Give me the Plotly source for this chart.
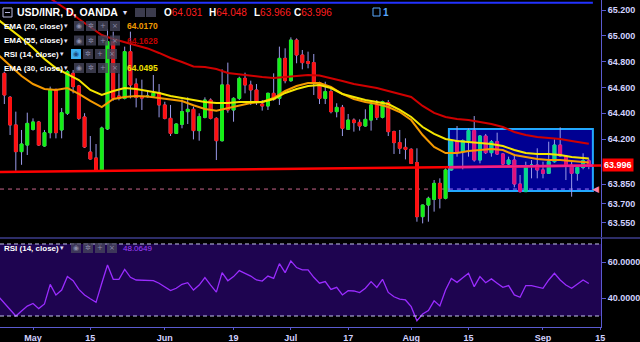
import numpy as np
import pandas as pd
import plotly.graph_objects as go

# ---------------- data ----------------
candle_start = "2017-04-24"          # first visible daily candle (weekdays only)
open_ = [64.709, 64.523, 64.309, 64.102, 64.153,
         64.275, 64.332, 64.146, 64.249, 64.585, 64.270, 64.399, 64.709, 64.611, 64.371,
         64.099, 64.053, 63.960, 64.278, 64.955, 64.533, 64.515, 64.877, 64.626, 64.523,
         64.528, 64.533, 64.559, 64.464, 64.360, 64.244, 64.314, 64.412, 64.430, 64.265,
         64.368, 64.502, 64.360, 64.187, 64.619, 64.425, 64.515, 64.670, 64.619, 64.580,
         64.471, 64.456, 64.554, 64.515, 64.825, 64.652, 64.967, 64.851, 64.800, 64.792,
         64.637, 64.515, 64.567, 64.412, 64.445, 64.275, 64.347, 64.329, 64.301, 64.347,
         64.464, 64.368, 64.482, 64.257, 64.172, 64.135, 64.120, 64.017, 63.598, 63.688,
         63.732, 63.856, 63.740, 63.960, 64.187, 64.102, 64.187, 64.265, 64.037, 64.223,
         64.094, 64.179, 64.084, 64.006, 64.037, 63.851, 63.792, 63.993, 63.998, 63.960,
         63.934, 64.024, 64.153, 64.068, 63.998, 63.934, 63.980, 64.031]
high = [64.722, 64.533, 64.412, 64.270, 64.404,
        64.360, 64.340, 64.270, 64.606, 64.590, 64.440, 64.735, 64.735, 64.619, 64.400,
        64.223, 64.161, 64.296, 65.050, 65.032, 64.709, 64.916, 65.032, 64.670, 64.660,
        64.570, 64.696, 64.626, 64.489, 64.464, 64.321, 64.507, 64.523, 64.451, 64.399,
        64.523, 64.515, 64.368, 64.740, 64.792, 64.523, 64.683, 64.714, 64.652, 64.626,
        64.502, 64.559, 64.709, 64.916, 64.903, 64.988, 64.980, 64.890, 64.877, 64.859,
        64.644, 64.644, 64.601, 64.477, 64.464, 64.394, 64.360, 64.352, 64.430, 64.471,
        64.502, 64.497, 64.502, 64.265, 64.270, 64.205, 64.128, 64.128, 63.690, 63.753,
        63.882, 63.895, 63.973, 64.192, 64.301, 64.197, 64.283, 64.378, 64.231, 64.239,
        64.192, 64.249, 64.089, 64.063, 64.084, 63.921, 64.024, 64.037, 64.128, 64.024,
        64.179, 64.197, 64.290, 64.076, 64.037, 63.991, 64.089, 64.048]
low = [64.471, 64.231, 63.954, 64.000, 64.076,
       64.265, 64.146, 64.141, 64.205, 64.205, 64.205, 64.386, 64.554, 64.347, 64.130,
       64.042, 63.955, 63.955, 64.270, 64.497, 64.500, 64.507, 64.515, 64.445, 64.425,
       64.520, 64.523, 64.368, 64.352, 64.223, 64.239, 64.283, 64.316, 64.197, 64.187,
       64.360, 64.352, 64.037, 64.180, 64.404, 64.334, 64.502, 64.554, 64.464, 64.464,
       64.420, 64.425, 64.497, 64.464, 64.632, 64.644, 64.787, 64.740, 64.748, 64.541,
       64.471, 64.471, 64.399, 64.368, 64.223, 64.270, 64.257, 64.265, 64.296, 64.265,
       64.347, 64.360, 64.223, 64.084, 64.084, 64.042, 64.006, 63.559, 63.546, 63.559,
       63.637, 63.662, 63.732, 63.954, 64.063, 63.965, 64.063, 64.024, 64.011, 64.084,
       64.063, 64.076, 63.998, 63.998, 63.825, 63.784, 63.790, 63.895, 63.895, 63.895,
       63.929, 64.017, 64.063, 63.882, 63.753, 63.877, 63.965, 63.966]
close = [64.541, 64.309, 64.102, 64.161, 64.321,
         64.332, 64.153, 64.249, 64.585, 64.249, 64.404, 64.722, 64.606, 64.360, 64.138,
         64.045, 63.960, 64.285, 64.955, 64.515, 64.515, 64.877, 64.619, 64.523, 64.518,
         64.533, 64.554, 64.464, 64.360, 64.244, 64.316, 64.412, 64.430, 64.265, 64.373,
         64.502, 64.360, 64.187, 64.619, 64.425, 64.515, 64.670, 64.619, 64.580, 64.489,
         64.456, 64.554, 64.507, 64.825, 64.652, 64.967, 64.851, 64.792, 64.787, 64.637,
         64.515, 64.567, 64.412, 64.445, 64.283, 64.347, 64.327, 64.301, 64.352, 64.464,
         64.368, 64.489, 64.257, 64.172, 64.128, 64.120, 64.011, 63.598, 63.688, 63.740,
         63.856, 63.740, 63.960, 64.179, 64.102, 64.187, 64.265, 64.037, 64.223, 64.094,
         64.179, 64.084, 64.006, 64.037, 63.851, 63.792, 63.985, 63.998, 63.960, 63.934,
         64.024, 64.153, 64.068, 63.998, 63.934, 63.980, 64.032, 63.996]

ema_dates = ["2017-04-21", "2017-04-25", "2017-04-27", "2017-05-01", "2017-05-03", "2017-05-05",
             "2017-05-09", "2017-05-11", "2017-05-15", "2017-05-17", "2017-05-19", "2017-05-23",
             "2017-05-25", "2017-05-29", "2017-05-31", "2017-06-02", "2017-06-06", "2017-06-08",
             "2017-06-12", "2017-06-14", "2017-06-16", "2017-06-20", "2017-06-22", "2017-06-26",
             "2017-06-28", "2017-06-30", "2017-07-04", "2017-07-06", "2017-07-10", "2017-07-12",
             "2017-07-14", "2017-07-18", "2017-07-20", "2017-07-24", "2017-07-26", "2017-07-28",
             "2017-08-01", "2017-08-03", "2017-08-07", "2017-08-09", "2017-08-11", "2017-08-15",
             "2017-08-17", "2017-08-21", "2017-08-23", "2017-08-25", "2017-08-29", "2017-08-31",
             "2017-09-04", "2017-09-06", "2017-09-08", "2017-09-13"]
ema20 = [64.851, 64.766, 64.688, 64.626, 64.588, 64.580, 64.595, 64.549, 64.495, 64.448,
         64.510, 64.526, 64.533, 64.530, 64.518, 64.502, 64.495, 64.462, 64.432, 64.420,
         64.440, 64.464, 64.479, 64.487, 64.518, 64.572, 64.611, 64.634, 64.634, 64.603,
         64.549, 64.510, 64.487, 64.471, 64.448, 64.409, 64.347, 64.231, 64.138, 64.091,
         64.091, 64.107, 64.115, 64.122, 64.115, 64.076, 64.060, 64.045, 64.037, 64.037,
         64.029, 64.017]
ema30 = [65.122, 65.053, 64.983, 64.905, 64.820, 64.750, 64.704, 64.657, 64.580, 64.541,
         64.572, 64.595, 64.588, 64.572, 64.557, 64.533, 64.518, 64.502, 64.487, 64.479,
         64.479, 64.487, 64.487, 64.487, 64.510, 64.557, 64.588, 64.611, 64.619, 64.595,
         64.549, 64.526, 64.502, 64.487, 64.471, 64.425, 64.371, 64.293, 64.239, 64.200,
         64.184, 64.177, 64.169, 64.161, 64.146, 64.115, 64.091, 64.084, 64.084, 64.076,
         64.060, 64.0495]
ema55 = [65.590, 65.520, 65.450, 65.386, 65.320, 65.262, 65.200, 65.130, 65.068, 65.006,
         64.975, 64.952, 64.929, 64.902, 64.867, 64.828, 64.797, 64.762, 64.758, 64.743,
         64.712, 64.700, 64.688, 64.681, 64.673, 64.681, 64.688, 64.696, 64.692, 64.673,
         64.650, 64.626, 64.611, 64.595, 64.572, 64.549, 64.526, 64.456, 64.402, 64.371,
         64.355, 64.347, 64.332, 64.316, 64.293, 64.254, 64.231, 64.216, 64.208, 64.200,
         64.184, 64.1628]

rsi_start = "2017-04-21"
rsi = [40.7, 37.2, 33.7, 30.0, 32.8, 35.5, 37.0, 34.1, 36.7, 47.6, 41.7, 44.4, 51.9, 49.6,
       44.8, 41.7, 39.6, 37.6, 48.2, 58.3, 50.4, 50.4, 55.9, 51.5, 50.0, 50.0, 50.0, 49.6,
       48.2, 46.3, 44.1, 45.4, 47.6, 48.5, 44.4, 47.2, 51.3, 47.2, 43.3, 54.1, 49.6, 51.9,
       55.2, 53.7, 52.2, 50.0, 49.4, 52.2, 50.9, 59.1, 54.1, 60.6, 56.9, 55.6, 55.6, 51.5,
       48.2, 49.1, 44.8, 45.9, 41.7, 44.1, 43.9, 43.0, 45.4, 49.1, 45.9, 50.4, 43.1, 40.7,
       39.4, 38.9, 35.2, 27.4, 31.1, 33.0, 38.4, 35.6, 44.4, 50.9, 48.7, 51.3, 53.7, 46.3,
       51.9, 48.5, 50.6, 48.2, 45.9, 46.9, 41.7, 40.4, 46.9, 46.9, 46.3, 45.4, 50.0, 53.7,
       50.0, 47.2, 45.4, 47.6, 50.0, 48.0649]

x_tick_dates = ["2017-05-01", "2017-05-15", "2017-06-01", "2017-06-19", "2017-07-03",
                "2017-07-17", "2017-08-01", "2017-08-15", "2017-09-01", "2017-09-15"]
x_tick_labels = ["May", "15", "Jun", "19", "Jul", "17", "Aug", "15", "Sep", "15"]
price_ticks = [65.2, 65.0, 64.8, 64.6, 64.4, 64.2, 63.85, 63.7, 63.55]
rsi_ticks = [60, 40]

# drawings
box_x = ["2017-08-09 14:00", "2017-09-13 17:00"]
box_y = [63.797, 64.277]
trend_x = ["2017-04-21", "2017-09-18"]
trend_y = [63.944, 63.995]
alert_level = 63.812
top_line_level = 65.256
last_price = 63.996
ohlc_last = {"O": "64.031", "H": "64.048", "L": "63.966", "C": "63.996"}
ema_last = {"EMA (20, close)": "64.0170", "EMA (55, close)": "64.1628", "EMA (30, close)": "64.0495"}
rsi_last = "48.0649"

x_range = ["2017-04-21 05:45", "2017-09-15 03:00"]
price_range = [63.4403, 65.2775]
rsi_range = [23.89, 73.33]

# ---------------- styling ----------------
FONT = "Liberation Sans, Arial, sans-serif"
W, H = 640, 342
ML, MR, MT, MB = 0, 39, 0, 15
PW, PH = W - ML - MR, H - MT - MB
AX = "#5a5ad0"
TXT = "#d2d2ff"
UP, DN = "#14f014", "#ff1010"
UP_BOX, DN_BOX = "#00d890", "#e0107e"
WICK = "#9a9ae8"


def px(x):
    return (x - ML) / PW


def py(y):
    return (H - MB - y) / PH


dates = pd.bdate_range(candle_start, periods=len(open_))
rsi_dates = pd.bdate_range(rsi_start, periods=len(rsi))
body_hi = np.maximum(open_, close)
body_lo = np.minimum(open_, close)
in_box = dates >= pd.Timestamp(box_x[0])
out_box = ~in_box

fig = go.Figure()

# wicks
fig.add_trace(go.Candlestick(
    x=dates, open=open_, high=high, low=low, close=close,
    increasing=dict(line=dict(color=WICK, width=1), fillcolor=WICK),
    decreasing=dict(line=dict(color=WICK, width=1), fillcolor=WICK),
    whiskerwidth=0, xaxis="x", yaxis="y", hoverinfo="skip"))
# bodies outside and inside the rectangle
for mask, up, dn in ((out_box, UP, DN), (in_box, UP_BOX, DN_BOX)):
    o = np.array(open_)[mask]
    c = np.array(close)[mask]
    fig.add_trace(go.Candlestick(
        x=dates[mask], open=o, high=body_hi[mask], low=body_lo[mask], close=c,
        increasing=dict(line=dict(color=up, width=1), fillcolor=up),
        decreasing=dict(line=dict(color=dn, width=1), fillcolor=dn),
        whiskerwidth=0, xaxis="x", yaxis="y", hoverinfo="skip"))

# EMAs
for vals, col in ((ema55, "#d00000"), (ema20, "#f59a00"), (ema30, "#f5e600")):
    fig.add_trace(go.Scatter(x=ema_dates, y=vals, mode="lines",
                             line=dict(color=col, width=2), xaxis="x", yaxis="y",
                             hoverinfo="skip"))

# RSI
fig.add_trace(go.Scatter(x=rsi_dates, y=rsi, mode="lines",
                         line=dict(color="#9a2cff", width=1.3), xaxis="x", yaxis="y2",
                         hoverinfo="skip"))


def bpos(ts):
    """business-day position of a timestamp (weekends removed)."""
    t = pd.Timestamp(ts)
    d = np.busday_count(np.datetime64("2017-04-21"), np.datetime64(t.date()))
    return d + (t - t.normalize()) / pd.Timedelta(days=1)


def trend_at(ts):
    a, b = bpos(trend_x[0]), bpos(trend_x[1])
    return trend_y[0] + (trend_y[1] - trend_y[0]) * (bpos(ts) - a) / (b - a)


shapes = []
# rectangle (below candles)
shapes.append(dict(type="rect", xref="x", yref="y", x0=box_x[0], x1=box_x[1],
                   y0=box_y[0], y1=box_y[1], fillcolor="#000092",
                   line=dict(color="#22a8ff", width=2), layer="below"))
# alert dashed line
shapes.append(dict(type="line", xref="x", yref="y", x0=x_range[0], x1=box_x[0],
                   y0=alert_level, y1=alert_level, line=dict(color="#c8648a", width=1, dash="4px,4px"),
                   layer="below"))
shapes.append(dict(type="line", xref="x", yref="y", x0=box_x[0], x1=box_x[1],
                   y0=alert_level, y1=alert_level, line=dict(color="#9a78ff", width=1, dash="4px,4px"),
                   layer="below"))
# top blue line
shapes.append(dict(type="line", xref="x", yref="y", x0=x_range[0], x1=box_x[1],
                   y0=top_line_level, y1=top_line_level, line=dict(color="#2232ff", width=2)))
# trend line
shapes.append(dict(type="line", xref="x", yref="y", x0=trend_x[0], x1=trend_x[1],
                   y0=trend_y[0], y1=trend_y[1], line=dict(color="#ff0000", width=2.5)))
shapes.append(dict(type="line", xref="x", yref="y", x0=box_x[0], x1=box_x[1],
                   y0=trend_at(box_x[0]), y1=trend_at(box_x[1]),
                   line=dict(color="#f01e8c", width=2.5)))
# RSI band and dashed levels
shapes.append(dict(type="rect", xref="paper", yref="y2", x0=0, x1=1, y0=30, y1=70,
                   fillcolor="#1e0450", line=dict(width=0), layer="below"))
for lv in (70, 30):
    shapes.append(dict(type="line", xref="paper", yref="y2", x0=0, x1=1, y0=lv, y1=lv,
                       line=dict(color="#c4c4ec", width=1, dash="4px,3px")))
# pane separator
shapes.append(dict(type="line", xref="paper", yref="paper", x0=0, x1=W / PW,
                   y0=py(238), y1=py(238), line=dict(color=AX, width=1)))

annotations = []


def text(x, y, s, color="#ffffff", size=10, bold=False, anchor="left", family=FONT):
    annotations.append(dict(xref="paper", yref="paper", x=px(x), y=py(y), text=("<b>%s</b>" % s) if bold else s,
                            showarrow=False, xanchor=anchor, yanchor="middle",
                            font=dict(family=family, size=size, color=color)))


def icons(x0, y, first_blue=False):
    glyphs = ["◉", "✲", "+", "×"]
    for k, g in enumerate(glyphs):
        x = x0 + k * 12
        fill = "#3cb0f0" if (first_blue and k == 0) else "rgba(70,70,92,0.78)"
        shapes.append(dict(type="rect", xref="paper", yref="paper", x0=px(x), x1=px(x + 10),
                           y0=py(y + 5), y1=py(y - 5), fillcolor=fill, line=dict(width=0)))
        annotations.append(dict(xref="paper", yref="paper", x=px(x + 5), y=py(y), text=g,
                                showarrow=False, xanchor="center", yanchor="middle",
                                font=dict(family="DejaVu Sans", size=7,
                                          color="#1a4a80" if (first_blue and k == 0) else "#8c8ca8")))


# header
shapes.append(dict(type="rect", xref="paper", yref="paper", x0=px(3), x1=px(12),
                   y0=py(17), y1=py(8), line=dict(color="#b8b8e0", width=1)))
shapes.append(dict(type="line", xref="paper", yref="paper", x0=px(5), x1=px(10),
                   y0=py(12.5), y1=py(12.5), line=dict(color="#b8b8e0", width=1)))
text(15, 12.5, "USD/INR, D, OANDA", size=10.5, bold=True)
text(121, 12.5, "▾", size=8, color="#e0e0ff", family="DejaVu Sans")
for k in range(2):
    shapes.append(dict(type="rect", xref="paper", yref="paper", x0=px(135 + 11 * k), x1=px(145 + 11 * k),
                       y0=py(17), y1=py(8), fillcolor="rgba(70,70,92,0.85)", line=dict(width=0)))
xs = {"O": 162, "H": 207, "L": 252, "C": 292}
for key, val in ohlc_last.items():
    text(xs[key], 12.5, "<b>%s</b><span style='color:#ff1e1e'>%s</span>" % (key, val), size=10)
shapes.append(dict(type="rect", xref="paper", yref="paper", x0=px(373), x1=px(380),
                   y0=py(16), y1=py(8), line=dict(color="#58a8ff", width=1)))
text(381, 12.5, "1", size=10, color="#58a8ff", bold=True)

rows = [("EMA (20, close)", 26, "#f09a00"), ("EMA (55, close)", 40.5, "#c00000"),
        ("RSI (14, close)", 54, None), ("EMA (30, close)", 68, "#f0e000")]
for label, y, col in rows:
    text(2, y, label, size=8, bold=True)
    if label.startswith("RSI"):
        text(58, y, "▾", size=7, color="#e0e0ff", family="DejaVu Sans")
        icons(71, y, first_blue=True)
    else:
        text(62, y, "▾", size=7, color="#e0e0ff", family="DejaVu Sans")
        icons(74, y)
        text(125, y, ema_last[label], size=8.5, color=col, bold=True)

# RSI pane legend
text(2, 248, "RSI (14, close)", size=8, bold=True)
text(58, 248, "▾", size=7, color="#e0e0ff", family="DejaVu Sans")
icons(71, 248)
text(121, 248, rsi_last, size=8, color="#a040ff")

# last price label and alert marker
annotations.append(dict(xref="paper", yref="y", x=px(602), y=last_price, text="<b>%.3f</b>" % last_price,
                        showarrow=False, xanchor="left", yanchor="middle", bgcolor="#ff0000",
                        borderpad=1, font=dict(family=FONT, size=9, color="#ffffff")))
annotations.append(dict(xref="paper", yref="y", x=px(601), y=alert_level, text="◀",
                        showarrow=False, xanchor="right", yanchor="middle",
                        font=dict(family="DejaVu Sans", size=9, color="#ff7fa8")))

tickfont = dict(family=FONT, size=9, color=TXT)
fig.update_layout(
    width=W, height=H, margin=dict(l=ML, r=MR, t=MT, b=MB),
    paper_bgcolor="#000000", plot_bgcolor="#000000", showlegend=False,
    boxmode="overlay",
    xaxis=dict(type="date", range=x_range, rangebreaks=[dict(bounds=["sat", "mon"])],
               rangeslider=dict(visible=False), anchor="y2", showgrid=False, zeroline=False,
               showline=True, linecolor=AX, linewidth=1, ticks="outside", ticklen=2,
               tickcolor=AX, tickvals=x_tick_dates, ticktext=["<b>%s</b>" % t for t in x_tick_labels],
               tickfont=tickfont),
    yaxis=dict(domain=[py(237), 1], range=price_range, side="right", anchor="x",
               showgrid=False, zeroline=False, showline=True, linecolor=AX, ticks="outside",
               ticklen=4, tickcolor=AX, tickvals=price_ticks,
               ticktext=["<b>%.3f</b>" % v for v in price_ticks], tickfont=tickfont),
    yaxis2=dict(domain=[0, py(238)], range=rsi_range, side="right", anchor="x",
                showgrid=False, zeroline=False, showline=True, linecolor=AX, ticks="outside",
                ticklen=4, tickcolor=AX, tickvals=rsi_ticks,
                ticktext=["<b>%.4f</b>" % v for v in rsi_ticks], tickfont=tickfont),
    shapes=shapes, annotations=annotations,
)

fig.write_html("out.html")
